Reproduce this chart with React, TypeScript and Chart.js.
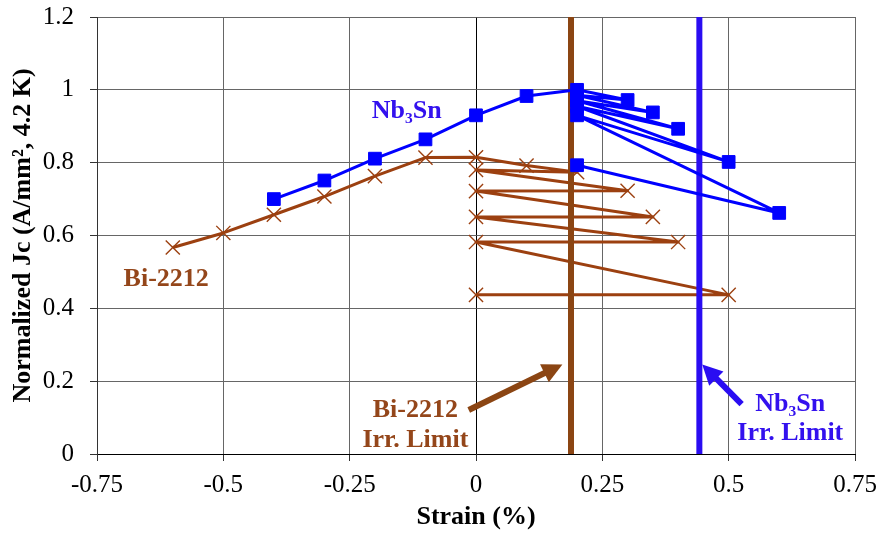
import React, { useEffect, useRef } from 'react';
import { Chart, registerables } from 'chart.js';

Chart.register(...registerables);

// ---- Data ----
const nbStrain = [-0.4, -0.3, -0.2, -0.1, 0, 0.1, 0.2, 0.3, 0.2, 0.35, 0.2, 0.4, 0.2, 0.5, 0.2, 0.6, 0.2];
const nbJc = [0.70, 0.751, 0.811, 0.864, 0.93, 0.983, 1.0, 0.972, 0.985, 0.938, 0.97, 0.893, 0.955, 0.802, 0.93, 0.662, 0.793];

const biStrain = [-0.6, -0.5, -0.4, -0.3, -0.2, -0.1, 0, 0.1, 0.2, 0, 0.3, 0, 0.35, 0, 0.4, 0, 0.5, 0];
const biJc = [0.567, 0.607, 0.657, 0.707, 0.763, 0.814, 0.815, 0.792, 0.774, 0.78, 0.723, 0.722, 0.651, 0.651, 0.582, 0.582, 0.437, 0.437];

const irrLimitBi = 0.188;
const irrLimitNb = 0.442;
const yRange = [0, 1.2];

const xTicks = [-0.75, -0.5, -0.25, 0, 0.25, 0.5, 0.75];
const xTickLabels = ['-0.75', '-0.5', '-0.25', '0', '0.25', '0.5', '0.75'];
const yTicks = [0, 0.2, 0.4, 0.6, 0.8, 1.0, 1.2];
const yTickLabels = ['0', '0.2', '0.4', '0.6', '0.8', '1', '1.2'];

// ---- Styles ----
const FONT = '"Liberation Serif", "Times New Roman", serif';
const BLUE = '#0000FF';
const BLUE_LIMIT = '#2A0DF2';
const BLUE_TEXT = '#3311EE';
const BROWN = '#9C4010';
const BROWN_LIMIT = '#8B4513';
const BROWN_TEXT = '#94461A';

// annotation layout (in data coordinates)
const labels = [
  { text: 'Nb₃Sn', x: -0.137, y: 0.942, color: BLUE_TEXT },
  { text: 'Bi-2212', x: -0.613, y: 0.479, color: BROWN_TEXT },
  { text: 'Bi-2212', x: -0.12, y: 0.121, color: BROWN_TEXT },
  { text: 'Irr. Limit', x: -0.12, y: 0.038, color: BROWN_TEXT },
  { text: 'Nb₃Sn', x: 0.622, y: 0.137, color: BLUE_TEXT },
  { text: 'Irr. Limit', x: 0.622, y: 0.056, color: BLUE_TEXT },
];
const arrows = [
  { x0: -0.0144, y0: 0.121, x1: 0.171, y1: 0.246, color: BROWN_LIMIT },
  { x0: 0.5256, y0: 0.137, x1: 0.4477, y1: 0.246, color: BLUE_LIMIT },
];

const annotationPlugin = {
  id: 'annotations',
  afterDatasetsDraw(chart: any) {
    const { ctx } = chart;
    const xs = chart.scales.x;
    const ys = chart.scales.y;
    ctx.save();
    for (const a of arrows) {
      const x0 = xs.getPixelForValue(a.x0);
      const y0 = ys.getPixelForValue(a.y0);
      const x1 = xs.getPixelForValue(a.x1);
      const y1 = ys.getPixelForValue(a.y1);
      const ang = Math.atan2(y1 - y0, x1 - x0);
      const c = Math.cos(ang);
      const s = Math.sin(ang);
      const headLen = 20;
      const headW = 10;
      const bx = x1 - headLen * c;
      const by = y1 - headLen * s;
      ctx.strokeStyle = a.color;
      ctx.fillStyle = a.color;
      ctx.lineWidth = 6;
      ctx.lineCap = 'butt';
      ctx.beginPath();
      ctx.moveTo(x0, y0);
      ctx.lineTo(bx + 2 * c, by + 2 * s);
      ctx.stroke();
      ctx.beginPath();
      ctx.moveTo(x1, y1);
      ctx.lineTo(bx + headW * s, by - headW * c);
      ctx.lineTo(bx - headW * s, by + headW * c);
      ctx.closePath();
      ctx.fill();
    }
    ctx.font = `bold 26px ${FONT}`;
    ctx.textAlign = 'center';
    ctx.textBaseline = 'middle';
    for (const l of labels) {
      ctx.fillStyle = l.color;
      ctx.fillText(l.text, xs.getPixelForValue(l.x), ys.getPixelForValue(l.y));
    }
    ctx.restore();
  },
};

const toPoints = (xs: number[], ys: number[]) => xs.map((x, i) => ({ x, y: ys[i] }));

export default function App() {
  const ref = useRef<HTMLCanvasElement>(null);

  useEffect(() => {
    if (!ref.current) return;
    Chart.defaults.font.family = FONT;
    const chart = new Chart(ref.current, {
      type: 'scatter',
      data: {
        datasets: [
          {
            label: 'Nb3Sn',
            data: toPoints(nbStrain, nbJc),
            showLine: true,
            borderColor: BLUE,
            borderWidth: 3,
            borderJoinStyle: 'round',
            pointStyle: 'rect',
            pointRadius: 9,
            pointBackgroundColor: BLUE,
            pointBorderColor: BLUE,
            pointBorderWidth: 1,
            order: 0,
          } as any,
          {
            label: 'Nb3Sn Irr. Limit',
            data: toPoints([irrLimitNb, irrLimitNb], yRange),
            showLine: true,
            borderColor: BLUE_LIMIT,
            borderWidth: 6,
            pointRadius: 0,
            order: 1,
          } as any,
          {
            label: 'Bi-2212 Irr. Limit',
            data: toPoints([irrLimitBi, irrLimitBi], yRange),
            showLine: true,
            borderColor: BROWN_LIMIT,
            borderWidth: 6,
            pointRadius: 0,
            order: 2,
          } as any,
          {
            label: 'Bi-2212',
            data: toPoints(biStrain, biJc),
            showLine: true,
            borderColor: BROWN,
            borderWidth: 3,
            borderJoinStyle: 'round',
            pointStyle: 'crossRot',
            pointRadius: 10,
            pointBorderColor: BROWN,
            pointBackgroundColor: BROWN,
            pointBorderWidth: 1.4,
            order: 3,
          } as any,
        ],
      },
      options: {
        animation: false,
        responsive: false,
        devicePixelRatio: 1,
        layout: { padding: { top: 17, right: 26, left: 0, bottom: 0 } },
        plugins: {
          legend: { display: false },
          tooltip: { enabled: false },
        },
        scales: {
          x: {
            type: 'linear',
            position: 'bottom',
            min: -0.75,
            max: 0.75,
            afterBuildTicks: (s: any) => {
              s.ticks = xTicks.map((v) => ({ value: v }));
            },
            afterFit: (s: any) => {
              s.height = 81;
              s.paddingLeft = 0;
              s.paddingRight = 0;
              s.paddingTop = 0;
              s.paddingBottom = 0;
            },
            ticks: {
              callback: (v: any) => xTickLabels[xTicks.indexOf(Number(v))],
              font: { family: FONT, size: 25, lineHeight: 1.2 },
              color: '#000',
              padding: 9,
              maxRotation: 0,
              autoSkip: false,
            },
            grid: {
              color: (c: any) => (c.tick && c.tick.value === 0 ? '#000' : '#666666'),
              tickColor: '#333',
              lineWidth: 1,
              tickLength: 7,
            },
            border: { color: '#000', width: 1 },
            title: {
              display: true,
              text: 'Strain (%)',
              color: '#000',
              font: { family: FONT, size: 26, weight: 'bold', lineHeight: 1.2 },
              padding: { top: 0, bottom: 2 },
            },
          } as any,
          y: {
            type: 'linear',
            min: 0,
            max: 1.2,
            afterBuildTicks: (s: any) => {
              s.ticks = yTicks.map((v) => ({ value: v }));
            },
            afterFit: (s: any) => {
              s.width = 97;
              s.paddingLeft = 0;
              s.paddingRight = 0;
              s.paddingTop = 0;
              s.paddingBottom = 0;
            },
            ticks: {
              callback: (v: any) => yTickLabels[yTicks.indexOf(Number(v))],
              font: { family: FONT, size: 25, lineHeight: 1.2 },
              color: '#000',
              padding: 16,
            },
            grid: {
              color: '#666666',
              tickColor: '#333',
              lineWidth: 1,
              tickLength: 7,
            },
            border: { color: '#333', width: 1 },
            title: {
              display: true,
              text: 'Normalized Jc (A/mm², 4.2 K)',
              color: '#000',
              font: { family: FONT, size: 26, weight: 'bold', lineHeight: 1.2 },
              padding: { top: 8, bottom: 0 },
            },
          } as any,
        },
      },
      plugins: [annotationPlugin],
    });
    return () => chart.destroy();
  }, []);

  return (
    <div style={{ position: 'fixed', left: 0, top: 0, width: 881, height: 535, background: '#fff' }}>
      <canvas ref={ref} width={881} height={535} style={{ width: 881, height: 535, display: 'block' }} />
    </div>
  );
}
